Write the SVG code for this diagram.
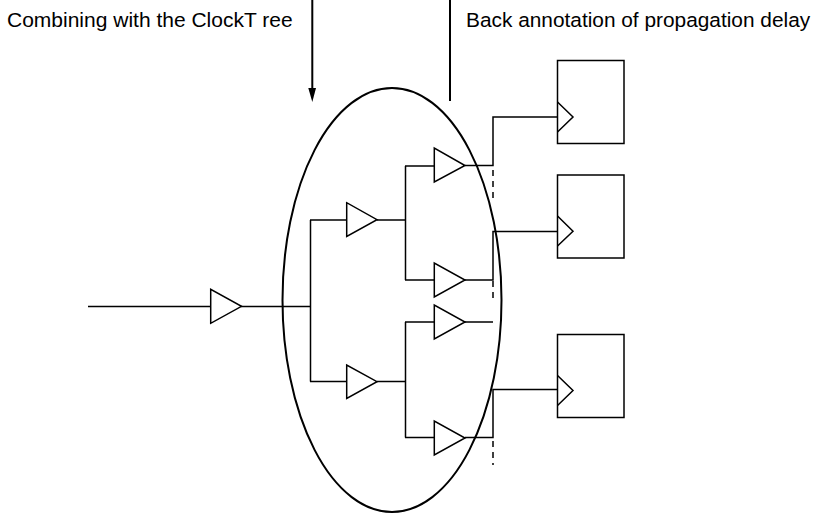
<svg xmlns="http://www.w3.org/2000/svg" width="816" height="514" viewBox="0 0 816 514">
<defs><style>
.l{fill:none;stroke:#000;stroke-width:1.5}
.h{fill:none;stroke:#000;stroke-width:2}
.d{fill:none;stroke:#000;stroke-width:1.5;stroke-dasharray:6 5}
text{font-family:"Liberation Sans",Arial,sans-serif;font-size:20.85px;fill:#000}
</style>
</defs>
<rect width="816" height="514" fill="#fff"/>
<g id="connectors">
<path class="l" d="M88 306.500H211M241 306.500H311M310.500 220V381.500M310 220H347M310 381.500H347M377 220H405.500M405.500 166V280M405 166H434M405 280H434M377 381.500H405.500M405.500 322V437.500M405 322H434M405 437.500H434"/>
<path class="l" d="M465 165.500H493V117H557M465 280H493V231.500H557M465 322H493M465 437.500H493V389.500H557"/>
<path class="d" d="M493 170V198M493 281V300M493 441V465"/>
<path class="h" d="M312.300 0V90M450 0V101"/>
<path d="M308.300 88H316L312.300 102Z" fill="#000"/>
</g>
<g id="ellipse"><ellipse class="h" cx="392" cy="300" rx="109.500" ry="212"/></g>
<g id="buffers">
<path id="b0" class="l" d="M210.700 289.300V323.300L241.500 306.300Z"/>
<path id="b1" class="l" d="M346.700 202.700V236.500L377 219.700Z"/>
<path id="b2" class="l" d="M346.700 365V398.500L377 381.700Z"/>
<path id="b3" class="l" d="M434.300 148V182L465 165.500Z"/>
<path id="b4" class="l" d="M434.300 263V297L465 280Z"/>
<path id="b5" class="l" d="M434.300 305V339L465 322Z"/>
<path id="b6" class="l" d="M434.300 421V455L465 438Z"/>
</g>
<g id="ff1"><rect class="l" x="557.500" y="60.500" width="66.500" height="83"/><path class="l" d="M557.500 102L573 117L557.500 132"/></g>
<g id="ff2"><rect class="l" x="557.500" y="175" width="66.500" height="83"/><path class="l" d="M557.500 216L573 231.300L557.500 246"/></g>
<g id="ff3"><rect class="l" x="557.500" y="334.500" width="66.500" height="83"/><path class="l" d="M557.500 375.500L573 390.500L557.500 405.500"/></g>
<text x="7" y="27" style="font-size:21px">Combining with the ClockT ree</text>
<text x="466" y="27">Back annotation of propagation delay</text>
</svg>
